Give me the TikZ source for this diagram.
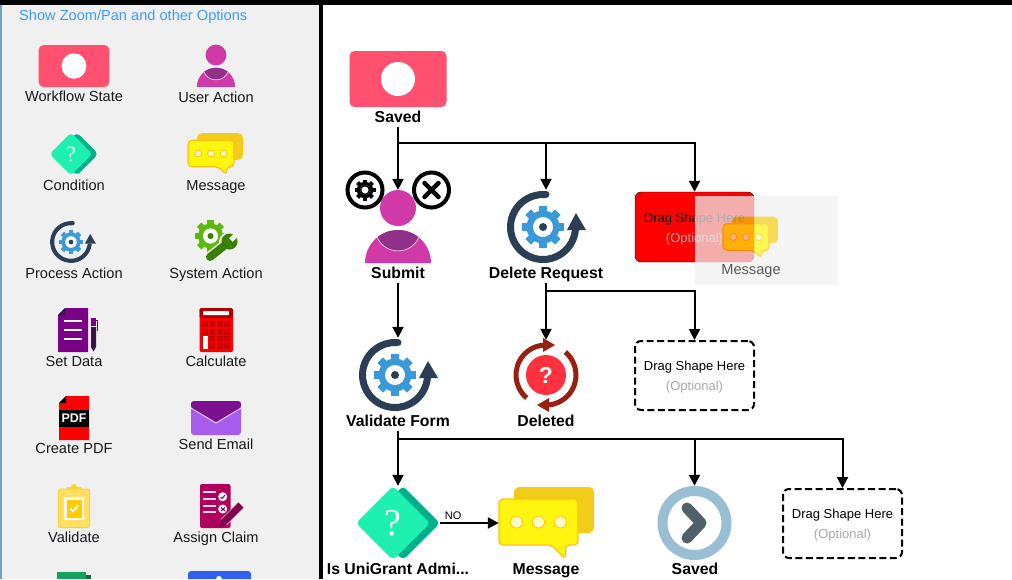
\documentclass[tikz,border=0pt]{standalone}
\usepackage{fontspec}
\setmainfont{Liberation Sans}
\newfontfamily\qfont{Liberation Serif}
\usepackage{tikz}
\usetikzlibrary{arrows.meta}

\definecolor{panel}{HTML}{F0F0F0}
\definecolor{linkblue}{HTML}{3F9CFF}
\definecolor{panelrim}{HTML}{6FA0CC}
\definecolor{statepink}{HTML}{FF5070}
\definecolor{userpink}{HTML}{D03AA8}
\definecolor{userdark}{HTML}{913088}
\definecolor{condlight}{HTML}{1EF0B0}
\definecolor{conddark}{HTML}{00B08A}
\definecolor{msgback}{HTML}{F2CC1A}
\definecolor{msgfront}{HTML}{FFF50F}
\definecolor{msgedge}{HTML}{FFC010}
\definecolor{arcnavy}{HTML}{2C3E55}
\definecolor{gearblue}{HTML}{3A9AD9}
\definecolor{gearlime}{HTML}{5CB80C}
\definecolor{wrenchgreen}{HTML}{3A8000}
\definecolor{ringblue}{HTML}{9ABFD4}
\definecolor{chevron}{HTML}{506068}
\definecolor{deadred}{HTML}{982010}
\definecolor{deadball}{HTML}{FF3040}
\definecolor{optgrey}{HTML}{A8A8A8}
\definecolor{docpurple}{HTML}{7A0088}
\definecolor{docdark}{HTML}{3A1050}
\definecolor{calcdark}{HTML}{B00000}
\definecolor{calccell}{HTML}{C80000}
\definecolor{mailflap}{HTML}{7A1090}
\definecolor{maillight}{HTML}{A85CEC}
\definecolor{boardyellow}{HTML}{FFE060}
\definecolor{boardedge}{HTML}{FFD030}
\definecolor{boardgold}{HTML}{FFCC00}
\definecolor{claimred}{HTML}{B0005C}
\definecolor{claimpen}{HTML}{80004C}
\definecolor{sheetgreen}{HTML}{17A05A}
\definecolor{sheetdark}{HTML}{0F6A3C}
\definecolor{formblue}{HTML}{3060F0}

% gear around the local origin: colour, colour of the dot
\newcommand{\cogwheel}[2]{
  \foreach \a in {0,45,...,315}
    \fill[#1, rotate=\a] (-4,-21) rectangle (4,-12);
  \fill[#1] (0,0) circle[radius=16.5];
  \fill[white] (0,0) circle[radius=10];
  \fill[#2] (0,0) circle[radius=4];
}
\newcommand{\droptext}{\raisebox{-5.2pt}[0pt][0pt]{Drag Shape Here}\\\raisebox{-5.2pt}[0pt][0pt]{\textcolor{optgrey}{(Optional)}}}

\tikzset{
  statepic/.pic={
    \fill[statepink, rounded corners=5pt] (-48.5,-28) rectangle (48.5,28);
    \fill[white] (0,0) circle[radius=17];
  },
  userpic/.pic={
    \fill[userpink] (0,0) circle[radius=18];
    \fill[userpink] (-33,55) arc[start angle=180, end angle=360, radius=33] -- cycle;
    \begin{scope}
      \clip (-33,55) arc[start angle=180, end angle=360, radius=33] -- cycle;
      \fill[userdark] (-21,29) .. controls (-13,47.5) and (13,47.5) .. (21,29) -- (21,15) -- (-21,15) -- cycle;
      \draw[white!75!userpink, line width=.7pt] (-21,29) .. controls (-13,47.5) and (13,47.5) .. (21,29);
    \end{scope}
  },
  condpic/.pic={
    \fill[conddark, rounded corners=4pt] (10,-37) -- (47,0) -- (10,37) -- (-27,0) -- cycle;
    \fill[condlight, rounded corners=4pt] (0,-37) -- (37,0) -- (0,37) -- (-37,0) -- cycle;
    \node[text=white, inner sep=0, transform shape, font=\qfont\fontsize{38}{38}\selectfont] at (0,0) {?};
  },
  msgpic/.pic={
    \fill[msgback, rounded corners=5pt] (-24.5,-35) rectangle (55.5,11);
    \filldraw[fill=msgfront, draw=msgedge, line width=1.2pt, rounded corners=4pt]
      (-39.5,-23) -- (39.5,-23) -- (39.5,23) -- (27,23) -- (27,37) -- (13,23) -- (-39.5,23) -- cycle;
    \foreach \x in {-22,0,22}
      \filldraw[fill=white!75!msgfront, draw=msgedge, line width=.8pt] (\x,0) circle[radius=6];
  },
  processpic/.pic={
    \fill[arcnavy] (275:36) arc[start angle=275, end angle=5, radius=36] -- (5:29) arc[start angle=5, end angle=275, radius=29] -- cycle;
    \fill[arcnavy] (3,-32.5) circle[radius=3.5];
    \fill[arcnavy] (24,3) -- (33,-14) -- (43,3) -- cycle;
    \cogwheel{gearblue}{arcnavy}
  },
  flowline/.style={draw=black, line width=2pt, -{Triangle[length=11pt,width=11pt]}},
  sidelabel/.style={font=\fontsize{14.6}{16}\selectfont, text=black!90, inner sep=0, text height=11, text depth=1},
  stepname/.style={font=\bfseries\fontsize{15.8}{16}\selectfont, minimum height=22, inner sep=0, text height=12, text depth=0},
  iconbox/.style={inner sep=0},
  dropbox/.style={draw=black, rounded corners=6pt, minimum width=119, minimum height=69, inner sep=0,
    align=center, font=\fontsize{13}{20}\selectfont},
  dashbox/.style={dropbox, line width=2pt, dash pattern=on 7pt off 3.5pt},
}

\begin{document}
\begin{tikzpicture}[x=1pt, y=-1pt]
  \useasboundingbox (0,0) rectangle (1012,579);

  % side panel
  \fill[panel] (0,0) rectangle (319,579);
  \fill[panelrim] (0,4) rectangle (1.7,579);
  \node[sidelabel, text=linkblue, anchor=west] (zoomlink) at (19,15) {Show Zoom/Pan and other Options};

  \pic[xscale=.73, yscale=.75] at (74,66) {statepic};
  \node[sidelabel] (lblstate) at (74,96) {Workflow State};
  \pic[scale=.58] at (216,55) {userpic};
  \node[sidelabel] (lbluser) at (216,97) {User Action};
  \pic[scale=.58] at (71,154) {condpic};
  \node[sidelabel] (lblcond) at (74,185) {Condition};
  \pic[scale=.58] at (211,153.5) {msgpic};
  \node[sidelabel] (lblmsg) at (216,185) {Message};
  \pic[scale=.58] at (71,242) {processpic};
  \node[sidelabel] (lblprocess) at (74,273) {Process Action};

  % system action
  \begin{scope}[shift={(210.5,236)}, scale=.76]
    \cogwheel{gearlime}{wrenchgreen}
  \end{scope}
  \draw[panel, line width=11pt, line cap=round] (210,257) -- (229,242);
  \fill[panel] (229,242) circle[radius=10];
  \draw[wrenchgreen, line width=8pt, line cap=round] (210,257) -- (229,242);
  \fill[wrenchgreen] (229.5,241.5) circle[radius=8];
  \fill[panel] (229.2,238.2) -- (232.8,241.8) -- (239.8,234.8) -- (236.2,231.2) -- cycle;
  \node[sidelabel] (lblsystem) at (216,273) {System Action};

  % set data
  \fill[docpurple] (65,308) -- (88,308) -- (88,352) -- (58,352) -- (58,315) -- cycle;
  \fill[docdark] (58,315) -- (65,308) -- (65,315) -- cycle;
  \foreach \y in {321,330,339}
    \draw[white, line width=1.5pt] (64,\y) -- (82,\y);
  \fill[docpurple] (91,318) rectangle (96,326);
  \draw[docpurple, line width=.8pt] (96,320) -- (97.5,320) -- (97.5,331);
  \fill[docdark] (91,327) -- (96,327) -- (96,347) -- (93.5,351.5) -- (91,347) -- cycle;
  \node[sidelabel] (lblsetdata) at (74,361) {Set Data};

  % calculate
  \fill[red, rounded corners=1.5pt] (199.5,308) rectangle (233,352);
  \fill[calcdark, rounded corners=1.5pt] (199.5,308) rectangle (233,318);
  \fill[white, rounded corners=1pt] (203,311) rectangle (229,315);
  \foreach \x in {205,212.3,219.7,227}
    \foreach \y in {324.3,331.7,338.7,346}
      \fill[calccell] (\x-3,\y-3) rectangle (\x+3,\y+3);
  \fill[white] (202.5,336) rectangle (208,349);
  \node[sidelabel] (lblcalc) at (216,361) {Calculate};

  % create pdf
  \fill[red] (66,396) -- (89,396) -- (89,440) -- (59,440) -- (59,403) -- cycle;
  \fill[black] (59,403) -- (66,396) -- (66,403) -- cycle;
  \fill[black] (59,409.5) rectangle (89,427);
  \node[text=white, font=\bfseries\fontsize{12.5}{13}\selectfont, inner sep=0] (pdftag) at (74,418) {PDF};
  \node[sidelabel] (lblpdf) at (74,448) {Create PDF};

  % send email
  \fill[maillight, rounded corners=3pt] (191,401) rectangle (241,435);
  \fill[mailflap, rounded corners=3pt] (191,408) -- (191,401) -- (241,401) -- (241,408) -- (216,423) -- cycle;
  \draw[white!85!maillight, line width=.8pt] (191,408) -- (216,423) -- (241,408);
  \node[sidelabel] (lblemail) at (216,444) {Send Email};

  % validate
  \fill[boardedge] (74,487) circle[radius=3];
  \fill[boardedge] (67,486.5) rectangle (81,491);
  \filldraw[fill=boardyellow, draw=boardedge, line width=1pt, rounded corners=2pt] (58.5,489) rectangle (89.5,527.5);
  \fill[white!85!boardyellow] (64,497) rectangle (84,520);
  \fill[boardgold] (66.5,499.5) rectangle (81.5,518);
  \draw[white, line width=1.6pt] (70,508.5) -- (73,511.5) -- (78,505.5);
  \node[sidelabel] (lblvalidate) at (74,537) {Validate};

  % assign claim
  \fill[claimred, rounded corners=2pt] (200,484) rectangle (230.5,528);
  \foreach \y in {492,499,506,512}
    \draw[white!85!claimred, line width=1.1pt] (203,\y) -- (216,\y);
  \foreach \y in {496.7,509}
    \fill[white] (222.7,\y) circle[radius=4.5];
  \draw[claimpen, line width=1pt] (220.5,497) -- (222,498.5) -- (225,495);
  \draw[claimpen, line width=1pt] (221,507.5) -- (225,511) (225,507.5) -- (221,511);
  \draw[white!70!claimred, line width=8.5pt] (224,522) -- (241,505);
  \draw[claimpen, line width=7pt] (224,522) -- (241,505);
  \fill[claimpen] (219.5,527) -- (221.5,519.5) -- (226.5,524.5) -- cycle;
  \node[sidelabel] (lblclaim) at (216,537) {Assign Claim};

  % cut off by the page
  \fill[sheetgreen] (57,572) rectangle (86,579);
  \fill[sheetdark] (86,575) rectangle (91,579);
  \fill[formblue, rounded corners=3pt] (188,579) -- (188,571) -- (251,571) -- (251,579);
  \fill[white] (219,579) circle[radius=3];

  % frame
  \fill[black] (0,0) rectangle (1012,4.5);
  \fill[black] (319,0) rectangle (323,579);

  % workflow shapes
  \node[iconbox, minimum width=97, minimum height=56] (savedstate) at (398,79) {};
  \pic at (savedstate) {statepic};
  \node[stepname] (savedlbl) at (398,116) {Saved};

  \node[iconbox, minimum width=66, minimum height=74] (submiticon) at (398,227) {};
  \pic at (398,208) {userpic};
  \node[stepname] (submitlbl) at (398,272) {Submit};
  \draw[black, fill=white, line width=4pt] (365,190) circle[radius=17.5];
  \begin{scope}[shift={(365,190)}, scale=.5]
    \cogwheel{black}{white}
    \fill[black] (0,0) circle[radius=10];
    \fill[white] (0,0) circle[radius=7];
  \end{scope}
  \draw[black, fill=white, line width=4pt] (431.5,190) circle[radius=17.5];
  \draw[black, line width=4.5pt, line cap=round] (424.5,183) -- (438.5,197) (438.5,183) -- (424.5,197);

  \node[iconbox, minimum width=80, minimum height=74] (deleteicon) at (546,227) {};
  \pic at (543,227) {processpic};
  \node[stepname] (deletelbl) at (546,272) {Delete Request};

  \node[dropbox, fill=red, minimum height=70] (dropone) at (694.5,227) {\droptext};

  \node[iconbox, minimum width=80, minimum height=74] (validateicon) at (398,375) {};
  \pic at (395,375) {processpic};
  \node[stepname] (validatelbl) at (398,420) {Validate Form};

  \node[iconbox, minimum width=66, minimum height=70] (deadicon) at (546,375) {};
  \fill[deadball] (deadicon) circle[radius=20];
  \node[text=white, font=\bfseries\fontsize{23}{23}\selectfont, inner sep=0] (deadmark) at (deadicon) {?};
  \begin{scope}[shift={(546,375)}]
    \draw[deadred, line width=5pt] (130:30) arc[start angle=130, end angle=268, radius=30];
    \draw[deadred, line width=5pt] (310:30) arc[start angle=310, end angle=448, radius=30];
    \fill[deadred] (-3,-37) -- (9,-30) -- (-3,-23) -- cycle;
    \fill[deadred] (3,37) -- (-9,30) -- (3,23) -- cycle;
  \end{scope}
  \node[stepname] (deadlbl) at (546,420) {Deleted};

  \node[dashbox] (droptwo) at (694.5,375.5) {\droptext};

  \node[iconbox, minimum width=84, minimum height=74] (condicon) at (398,523) {};
  \pic at (393,523) {condpic};
  \node[stepname] (condlbl) at (398,568) {Is UniGrant Admi...};

  \node[iconbox, minimum width=95, minimum height=72] (msgicon) at (546.5,523) {};
  \pic at (538.5,522) {msgpic};
  \node[stepname] (msglbl) at (546,568) {Message};

  \node[iconbox, minimum width=74, minimum height=74] (savedicon) at (694.5,523) {};
  \draw[ringblue, line width=10pt] (savedicon) circle[radius=32];
  \draw[chevron, line width=11pt, line cap=round, line join=round] (687,508) -- (701,523) -- (687,538);
  \node[stepname] (savedendlbl) at (695,568) {Saved};

  \node[dashbox] (dropthree) at (842.5,523.5) {\droptext};

  % connectors
  \draw[flowline] (savedlbl.south) -- (submiticon.north);
  \draw[flowline] (savedlbl.south) -- ++(0,16) -| (deleteicon.north);
  \draw[flowline] (savedlbl.south) -- ++(0,16) -| (dropone.north);
  \draw[flowline] (submitlbl.south) -- (validateicon.north);
  \draw[flowline] (deletelbl.south) -- (deadicon.north);
  \draw[flowline] (deletelbl.south) -- ++(0,8) -| (droptwo.north);
  \draw[flowline] (validatelbl.south) -- (condicon.north);
  \draw[flowline] (validatelbl.south) -- ++(0,8) -| (savedicon.north);
  \draw[flowline] (validatelbl.south) -- ++(0,8) -| (dropthree.north);
  \draw[flowline] (condicon.east) -- node[above, pos=.22, font=\fontsize{11}{11}\selectfont, inner sep=2pt] (nolbl) {NO} (msgicon.west);

  % shape being dragged
  \begin{scope}[transparency group, opacity=.72]
    \fill[panel!90!white] (695,196) rectangle (838,285);
    \pic[scale=.58] at (746,237) {msgpic};
    \node[sidelabel] (ghostlbl) at (751,269) {Message};
  \end{scope}
\end{tikzpicture}
\end{document}
